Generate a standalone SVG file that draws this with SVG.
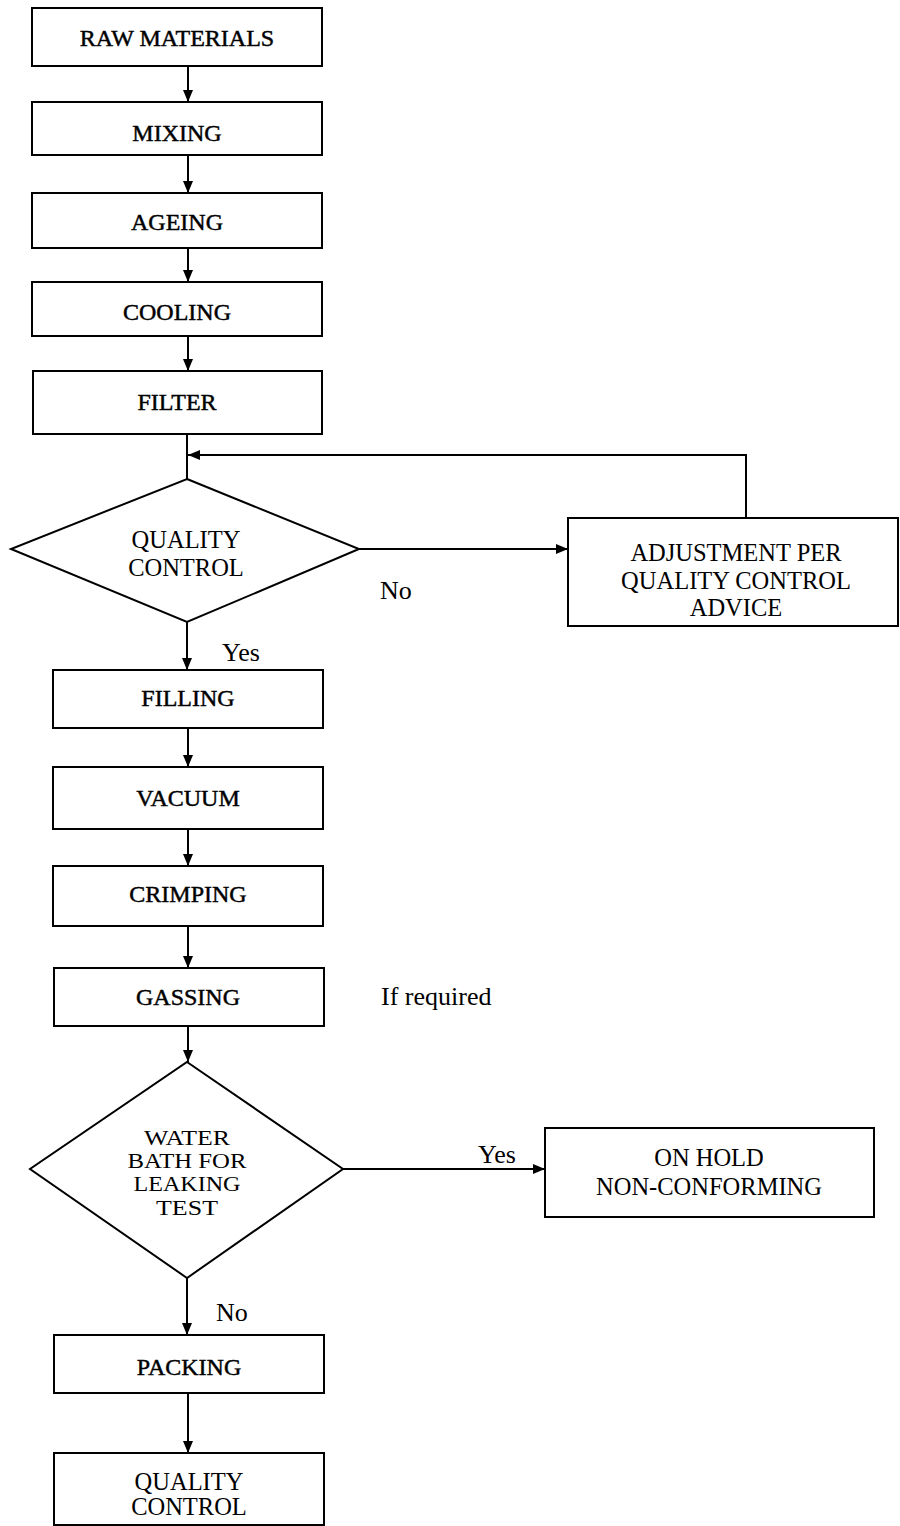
<svg xmlns="http://www.w3.org/2000/svg" width="900" height="1526" viewBox="0 0 900 1526">
  <defs>
    <marker id="arrow" viewBox="0 0 12 10" refX="12" refY="5" markerWidth="12" markerHeight="10" markerUnits="userSpaceOnUse" orient="auto">
      <path d="M0,0 L12,5 L0,10 Z" fill="#000"/>
    </marker>
    <style>
      .box { fill: #fff; stroke: #000; stroke-width: 2; }
      .lbl { font-family: "Liberation Serif", "Times New Roman", serif; font-size: 24px; fill: #000; text-anchor: middle; }
      .step { stroke: #000; stroke-width: 0.45px; }
      .dec { font-size: 24.5px; }
      .tight { font-size: 21px; }
      .note { font-family: "Liberation Serif", "Times New Roman", serif; font-size: 26px; fill: #000; }
      .conn { fill: none; stroke: #000; stroke-width: 2; }
      .arr { marker-end: url(#arrow); }
    </style>
  </defs>
  <rect width="900" height="1526" fill="#fff"/>

  <!-- connectors -->
  <g id="connectors">
    <line class="conn arr" x1="188" y1="66" x2="188" y2="102"/>
    <line class="conn arr" x1="188" y1="155" x2="188" y2="193"/>
    <line class="conn arr" x1="188" y1="248" x2="188" y2="282"/>
    <line class="conn arr" x1="188" y1="336" x2="188" y2="371"/>
    <line class="conn" x1="187" y1="434" x2="187" y2="479"/>
    <polyline class="conn arr" points="746,518 746,455 188,455"/>
    <line class="conn arr" x1="359" y1="549" x2="568" y2="549"/>
    <line class="conn arr" x1="187" y1="622" x2="187" y2="670"/>
    <line class="conn arr" x1="188" y1="728" x2="188" y2="767"/>
    <line class="conn arr" x1="188" y1="829" x2="188" y2="866"/>
    <line class="conn arr" x1="188" y1="926" x2="188" y2="968"/>
    <line class="conn arr" x1="188" y1="1026" x2="188" y2="1062"/>
    <line class="conn arr" x1="343" y1="1169" x2="545" y2="1169"/>
    <line class="conn arr" x1="187" y1="1278" x2="187" y2="1335"/>
    <line class="conn arr" x1="188" y1="1393" x2="188" y2="1453"/>
    <text class="note" x="380" y="599">No</text>
    <text class="note" x="222" y="661">Yes</text>
    <text class="note" x="381" y="1005">If required</text>
    <text class="note" x="478" y="1163">Yes</text>
    <text class="note" x="216" y="1321">No</text>
  </g>

  <g id="raw-materials">
    <rect class="box" x="32" y="8" width="290" height="58"/>
    <text class="lbl step" x="177" y="46">RAW MATERIALS</text>
  </g>
  <g id="mixing">
    <rect class="box" x="32" y="102" width="290" height="53"/>
    <text class="lbl step" x="177" y="141">MIXING</text>
  </g>
  <g id="ageing">
    <rect class="box" x="32" y="193" width="290" height="55"/>
    <text class="lbl step" x="177" y="230">AGEING</text>
  </g>
  <g id="cooling">
    <rect class="box" x="32" y="282" width="290" height="54"/>
    <text class="lbl step" x="177" y="320">COOLING</text>
  </g>
  <g id="filter">
    <rect class="box" x="33" y="371" width="289" height="63"/>
    <text class="lbl step" x="177" y="410">FILTER</text>
  </g>
  <g id="quality-control-check">
    <polygon class="box" points="187,479 359,549 187,622 11,549"/>
    <text class="lbl dec" x="186" y="548">QUALITY</text>
    <text class="lbl dec" x="186" y="576">CONTROL</text>
  </g>
  <g id="adjustment">
    <rect class="box" x="568" y="518" width="330" height="108"/>
    <text class="lbl dec" x="736" y="561">ADJUSTMENT PER</text>
    <text class="lbl dec" x="736" y="589">QUALITY CONTROL</text>
    <text class="lbl dec" x="736" y="616">ADVICE</text>
  </g>
  <g id="filling">
    <rect class="box" x="53" y="670" width="270" height="58"/>
    <text class="lbl step" x="188" y="706">FILLING</text>
  </g>
  <g id="vacuum">
    <rect class="box" x="53" y="767" width="270" height="62"/>
    <text class="lbl step" x="188" y="806">VACUUM</text>
  </g>
  <g id="crimping">
    <rect class="box" x="53" y="866" width="270" height="60"/>
    <text class="lbl step" x="188" y="902">CRIMPING</text>
  </g>
  <g id="gassing">
    <rect class="box" x="54" y="968" width="270" height="58"/>
    <text class="lbl step" x="188" y="1005">GASSING</text>
  </g>
  <g id="leak-test">
    <polygon class="box" points="187,1062 343,1169 187,1278 30,1169"/>
    <text class="lbl tight" x="187" y="1145" textLength="86" lengthAdjust="spacingAndGlyphs">WATER</text>
    <text class="lbl tight" x="187" y="1168" textLength="119" lengthAdjust="spacingAndGlyphs">BATH FOR</text>
    <text class="lbl tight" x="187" y="1191" textLength="107" lengthAdjust="spacingAndGlyphs">LEAKING</text>
    <text class="lbl tight" x="187" y="1215" textLength="62" lengthAdjust="spacingAndGlyphs">TEST</text>
  </g>
  <g id="on-hold">
    <rect class="box" x="545" y="1128" width="329" height="89"/>
    <text class="lbl dec" x="709" y="1166">ON HOLD</text>
    <text class="lbl dec" x="709" y="1195">NON-CONFORMING</text>
  </g>
  <g id="packing">
    <rect class="box" x="54" y="1335" width="270" height="58"/>
    <text class="lbl step" x="189" y="1375">PACKING</text>
  </g>
  <g id="final-quality-control">
    <rect class="box" x="54" y="1453" width="270" height="72"/>
    <text class="lbl dec" x="189" y="1490">QUALITY</text>
    <text class="lbl dec" x="189" y="1515">CONTROL</text>
  </g>
</svg>
